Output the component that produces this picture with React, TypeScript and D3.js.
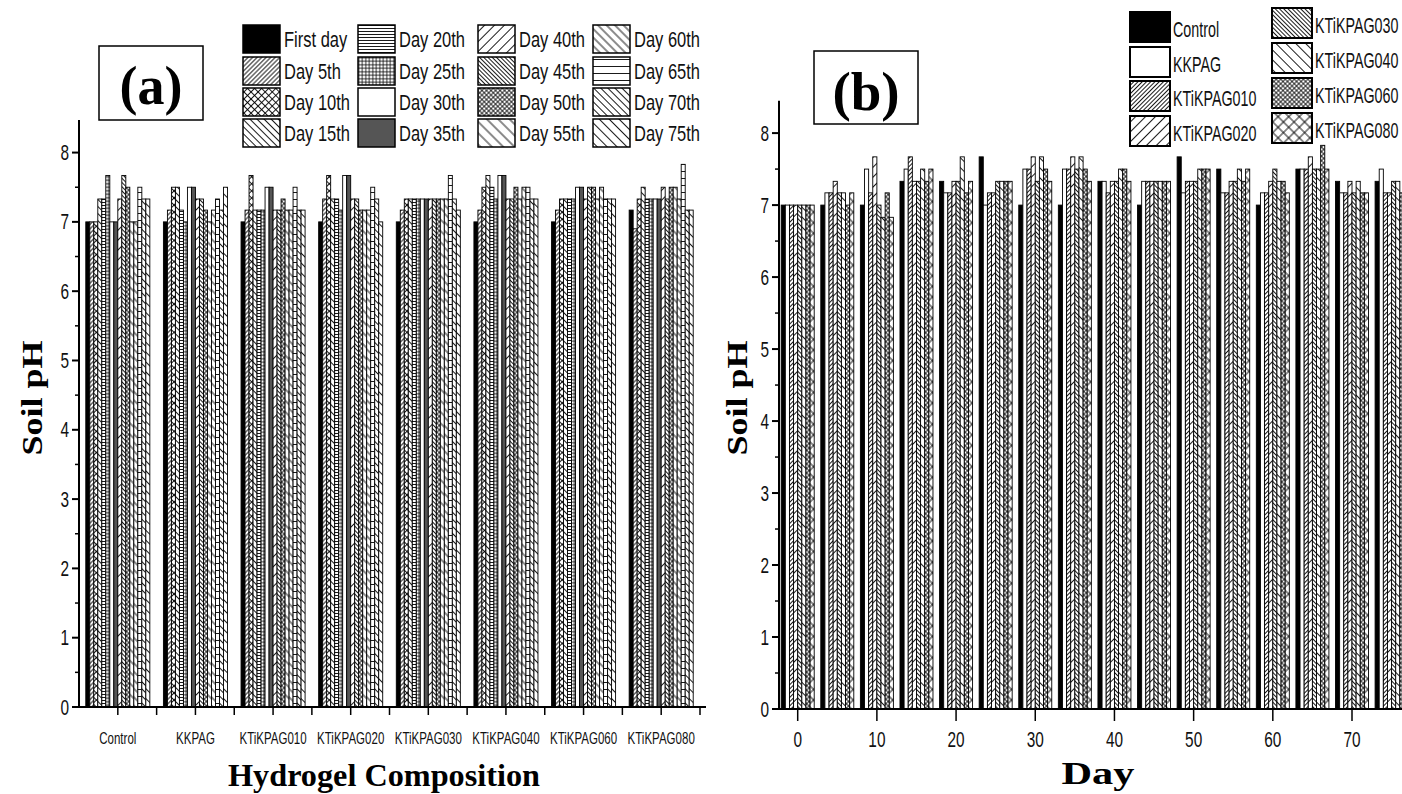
import React from 'react'
import * as d3 from 'd3'

// ---- data ----
const compositions = ['Control', 'KKPAG', 'KTiKPAG010', 'KTiKPAG020', 'KTiKPAG030', 'KTiKPAG040', 'KTiKPAG060', 'KTiKPAG080']
const dayLabels = ['First day', 'Day 5th', 'Day 10th', 'Day 15th', 'Day 20th', 'Day 25th', 'Day 30th', 'Day 35th',
  'Day 40th', 'Day 45th', 'Day 50th', 'Day 55th', 'Day 60th', 'Day 65th', 'Day 70th', 'Day 75th']
const days = [0, 5, 10, 15, 20, 25, 30, 35, 40, 45, 50, 55, 60, 65, 70, 75]
const yTicks = [0, 1, 2, 3, 4, 5, 6, 7, 8]
const dayTicks = [0, 10, 20, 30, 40, 50, 60, 70]

// (a) soil pH per composition, one value per sampling day
const phControlA = [7.0, 7.0, 7.0, 7.33, 7.33, 7.67, 7.0, 7.0, 7.33, 7.67, 7.5, 7.0, 7.0, 7.5, 7.33, 7.33]
const phKKPAGA = [7.0, 7.17, 7.5, 7.5, 7.17, 7.0, 7.5, 7.5, 7.33, 7.33, 7.17, 7.0, 7.17, 7.33, 7.17, 7.5]
const ph010A = [7.0, 7.17, 7.67, 7.17, 7.17, 7.17, 7.5, 7.5, 7.17, 7.17, 7.33, 7.17, 7.17, 7.5, 7.17, 7.17]
const ph020A = [7.0, 7.33, 7.67, 7.33, 7.33, 7.17, 7.67, 7.67, 7.33, 7.33, 7.17, 7.17, 7.17, 7.5, 7.33, 7.0]
const ph030A = [7.0, 7.17, 7.33, 7.33, 7.33, 7.33, 7.33, 7.33, 7.33, 7.33, 7.33, 7.33, 7.33, 7.67, 7.33, 7.17]
const ph040A = [7.0, 7.17, 7.5, 7.67, 7.5, 7.33, 7.67, 7.67, 7.33, 7.33, 7.5, 7.33, 7.5, 7.5, 7.33, 7.33]
const ph060A = [7.0, 7.17, 7.33, 7.33, 7.33, 7.33, 7.5, 7.5, 7.33, 7.5, 7.5, 7.33, 7.5, 7.33, 7.33, 7.33]
const ph080A = [7.17, 6.9, 7.33, 7.5, 7.33, 7.33, 7.33, 7.33, 7.5, 7.33, 7.5, 7.5, 7.33, 7.83, 7.17, 7.17]
const seriesA = [phControlA, phKKPAGA, ph010A, ph020A, ph030A, ph040A, ph060A, ph080A]

// (b) soil pH per composition over the days
const phControlB = [7.0, 7.0, 7.0, 7.33, 7.33, 7.67, 7.0, 7.0, 7.33, 7.0, 7.67, 7.5, 7.0, 7.5, 7.33, 7.33]
const phKKPAGB = [7.0, 7.17, 7.5, 7.5, 7.17, 7.0, 7.5, 7.5, 7.33, 7.33, 7.17, 7.17, 7.17, 7.5, 7.17, 7.5]
const ph010B = [7.0, 7.17, 7.17, 7.67, 7.17, 7.17, 7.5, 7.5, 7.17, 7.33, 7.33, 7.17, 7.17, 7.5, 7.17, 7.17]
const ph020B = [7.0, 7.33, 7.67, 7.33, 7.33, 7.17, 7.67, 7.67, 7.33, 7.33, 7.33, 7.33, 7.33, 7.67, 7.33, 7.17]
const ph030B = [7.0, 7.17, 7.0, 7.33, 7.33, 7.33, 7.33, 7.5, 7.33, 7.33, 7.33, 7.33, 7.5, 7.5, 7.17, 7.33]
const ph040B = [7.0, 7.17, 6.83, 7.5, 7.67, 7.33, 7.67, 7.67, 7.5, 7.33, 7.5, 7.5, 7.33, 7.5, 7.33, 7.33]
const ph060B = [7.0, 7.0, 7.17, 7.33, 7.17, 7.33, 7.5, 7.5, 7.5, 7.33, 7.5, 7.33, 7.33, 7.83, 7.17, 7.17]
const ph080B = [7.0, 7.17, 6.83, 7.5, 7.33, 7.33, 7.33, 7.33, 7.33, 7.33, 7.5, 7.5, 7.17, 7.5, 7.17, 7.17]
const seriesB = [phControlB, phKKPAGB, ph010B, ph020B, ph030B, ph040B, ph060B, ph080B]

// fills for each series
const fillsA = ['#000', 'url(#f5)', 'url(#cx5)', 'url(#b5)', 'url(#h3)', 'url(#g3)', '#fff', '#555',
  'url(#f7)', 'url(#b3)', 'url(#cx3)', 'url(#b8)', 'url(#b6)', 'url(#h7)', 'url(#b5)', 'url(#b7)']
const fillsB = ['#000', '#fff', 'url(#f3)', 'url(#f7)', 'url(#b3)', 'url(#b7)', 'url(#cx3)', 'url(#cx7)']

const SANS = 'Arial, "Liberation Sans", sans-serif'
const SERIF = '"Times New Roman", "Liberation Serif", serif'

const CT = ({ x, y, size, s = 0.72, anchor = 'start', children }: any) => (
  <text transform={`translate(${x},${y}) scale(${s},1)`} fontSize={size} fontFamily={SANS}
    textAnchor={anchor} dominantBaseline="central" fill="#111">{children}</text>
)

const lines = (id: string, gap: number, angle: number, two = false, sw = 0.9) => (
  <pattern key={id} id={id} patternUnits="userSpaceOnUse" width={gap} height={gap} patternTransform={`rotate(${angle})`}>
    <rect width={gap} height={gap} fill="#fff" />
    <line x1={gap / 2} y1={0} x2={gap / 2} y2={gap} stroke="#000" strokeWidth={sw} />
    {two && <line x1={0} y1={gap / 2} x2={gap} y2={gap / 2} stroke="#000" strokeWidth={sw} />}
  </pattern>
)

export default function App() {
  // panel (a)
  const xA = d3.scaleBand<string>().domain(compositions).range([79, 700]).paddingInner(0.175).paddingOuter(0.0875)
  const xA1 = d3.scaleBand<number>().domain(d3.range(16)).range([0, xA.bandwidth()])
  const yA = d3.scaleLinear().domain([0, 8.47]).range([707, 120])
  // panel (b)
  const xB = d3.scaleLinear().domain([0, 70]).range([797.7, 1352])
  const xB1 = d3.scaleBand<number>().domain(d3.range(8)).range([-16.5, 16.5])
  const yB = d3.scaleLinear().domain([0, 8.45]).range([709, 100.7])

  const stepA = xA.step()
  const halfTicks = d3.range(0.5, 8.5, 1)

  return (
    <svg width={1402} height={794} style={{ position: 'absolute', left: 0, top: 0, background: '#fff' }}>
      <defs>
        {lines('f3', 3, 45)}
        {lines('f5', 3.2, 45)}
        {lines('f7', 7, 45)}
        {lines('b3', 3, -45)}
        {lines('b5', 5, -45)}
        {lines('b6', 6, -45)}
        {lines('b7', 7, -45)}
        {lines('b8', 8, -45)}
        {lines('cx3', 3.2, 45, true, 0.8)}
        {lines('cx5', 5, 45, true)}
        {lines('cx7', 7.5, 45, true)}
        {lines('h3', 3, 90)}
        {lines('h7', 7, 90)}
        {lines('g3', 3.5, 0, true, 0.8)}
      </defs>

      {/* ---------- panel (a) ---------- */}
      <rect x={99} y={46} width={104} height={74} fill="#fff" stroke="#000" strokeWidth={1.5} />
      <text x={151} y={104} textAnchor="middle" fontFamily={SERIF} fontWeight="bold" fontSize={54}>(a)</text>

      {compositions.map((c, ci) => (
        <g key={c} transform={`translate(${xA(c)},0)`}>
          {seriesA[ci].map((v, i) => (
            <rect key={i} x={xA1(i)} y={yA(v)} width={xA1.bandwidth()} height={yA(0) - yA(v)}
              fill={fillsA[i]} stroke="#000" strokeWidth={0.9} />
          ))}
        </g>
      ))}

      <line x1={79} x2={79} y1={120} y2={708} stroke="#000" strokeWidth={2} />
      <line x1={72} x2={706} y1={707} y2={707} stroke="#000" strokeWidth={2} />
      {yTicks.map(t => (
        <g key={t}>
          <line x1={72} x2={79} y1={yA(t)} y2={yA(t)} stroke="#000" strokeWidth={2} />
          <CT x={69} y={yA(t)} size={22} s={0.7} anchor="end">{t}</CT>
        </g>
      ))}
      {halfTicks.map(t => (
        <line key={t} x1={75} x2={79} y1={yA(t)} y2={yA(t)} stroke="#000" strokeWidth={1.5} />
      ))}
      {compositions.map((c, ci) => (
        <g key={c}>
          <line x1={xA(c)! + xA.bandwidth() / 2} x2={xA(c)! + xA.bandwidth() / 2} y1={707} y2={715} stroke="#000" strokeWidth={1.5} />
          <line x1={79 + stepA * (ci + 1)} x2={79 + stepA * (ci + 1)} y1={707} y2={715} stroke="#000" strokeWidth={1.5} />
          <CT x={xA(c)! + xA.bandwidth() / 2} y={738} size={16} s={0.72} anchor="middle">{c}</CT>
        </g>
      ))}
      <text x={384} y={786} textAnchor="middle" fontFamily={SERIF} fontWeight="bold" fontSize={31}
        textLength={312} lengthAdjust="spacingAndGlyphs">Hydrogel Composition</text>
      <text transform="translate(42,398) rotate(-90)" textAnchor="middle" fontFamily={SERIF} fontWeight="bold"
        fontSize={30} textLength={115} lengthAdjust="spacingAndGlyphs">Soil pH</text>

      {/* legend (a) */}
      {dayLabels.map((d, i) => {
        const col = Math.floor(i / 4), row = i % 4
        const sx = [243, 358, 478, 593][col]
        const sy = [25, 57, 88, 119][row]
        return (
          <g key={d}>
            <rect x={sx} y={sy} width={37} height={28} fill={fillsA[i]} stroke="#000" strokeWidth={1.5} />
            <CT x={sx + 41} y={sy + 14} size={22} s={0.75}>{d}</CT>
          </g>
        )
      })}

      {/* ---------- panel (b) ---------- */}
      <rect x={814} y={51} width={104} height={73} fill="#fff" stroke="#000" strokeWidth={1.5} />
      <text x={866} y={110} textAnchor="middle" fontFamily={SERIF} fontWeight="bold" fontSize={55}>(b)</text>

      {days.map((d, di) => (
        <g key={d} transform={`translate(${xB(d)},0)`}>
          {seriesB.map((s, ci) => (
            <rect key={ci} x={xB1(ci)} y={yB(s[di])} width={xB1.bandwidth()} height={yB(0) - yB(s[di])}
              fill={fillsB[ci]} stroke="#000" strokeWidth={0.9} />
          ))}
        </g>
      ))}

      <line x1={779} x2={779} y1={100.7} y2={710} stroke="#000" strokeWidth={2} />
      <line x1={772} x2={1402} y1={709} y2={709} stroke="#000" strokeWidth={2} />
      {yTicks.map(t => (
        <g key={t}>
          <line x1={772} x2={779} y1={yB(t)} y2={yB(t)} stroke="#000" strokeWidth={2} />
          <CT x={769} y={yB(t)} size={22} s={0.7} anchor="end">{t}</CT>
        </g>
      ))}
      {halfTicks.map(t => (
        <line key={t} x1={775} x2={779} y1={yB(t)} y2={yB(t)} stroke="#000" strokeWidth={1.5} />
      ))}
      {dayTicks.map(t => (
        <g key={t}>
          <line x1={xB(t)} x2={xB(t)} y1={709} y2={721} stroke="#000" strokeWidth={1.5} />
          <CT x={xB(t)} y={739} size={22} s={0.7} anchor="middle">{t}</CT>
        </g>
      ))}
      <text x={1098} y={784} textAnchor="middle" fontFamily={SERIF} fontWeight="bold" fontSize={32}
        textLength={73} lengthAdjust="spacingAndGlyphs">Day</text>
      <text transform="translate(747,398) rotate(-90)" textAnchor="middle" fontFamily={SERIF} fontWeight="bold"
        fontSize={30} textLength={115} lengthAdjust="spacingAndGlyphs">Soil pH</text>

      {/* legend (b) */}
      {compositions.map((c, i) => {
        const col = Math.floor(i / 4), row = i % 4
        const sx = [1130, 1272][col]
        const sy = col === 0 ? [12, 47, 81, 116][row] : [8, 43, 78, 113][row]
        return (
          <g key={c}>
            <rect x={sx} y={sy} width={40} height={30} fill={fillsB[i]} stroke="#000" strokeWidth={2} />
            <CT x={sx + 43} y={sy + 17} size={22} s={0.65}>{c}</CT>
          </g>
        )
      })}
    </svg>
  )
}
